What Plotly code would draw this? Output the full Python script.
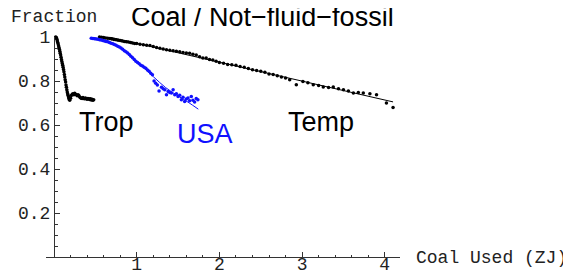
import plotly.graph_objects as go

# ---------------- data ----------------
trop_x = [0.02, 0.025, 0.03, 0.035, 0.04, 0.045, 0.05, 0.055, 0.06, 0.065, 0.07, 0.075, 0.08,
          0.085, 0.09, 0.095, 0.10, 0.105, 0.11, 0.115, 0.12, 0.125, 0.13, 0.135, 0.14, 0.145,
          0.15, 0.155, 0.16, 0.165, 0.17, 0.175, 0.18, 0.185, 0.19, 0.20, 0.21, 0.22, 0.23,
          0.24, 0.25, 0.26, 0.27, 0.28, 0.29, 0.30, 0.31, 0.32, 0.33, 0.34, 0.35, 0.36, 0.37,
          0.38, 0.39, 0.40, 0.41, 0.42, 0.43, 0.44, 0.45, 0.46, 0.47, 0.48]
trop_y = [1.000, 0.998, 0.996, 0.990, 0.982, 0.975, 0.968, 0.960, 0.952, 0.944, 0.935, 0.926, 0.918,
          0.908, 0.898, 0.889, 0.880, 0.872, 0.862, 0.852, 0.842, 0.830, 0.818, 0.806, 0.795, 0.782,
          0.772, 0.760, 0.750, 0.742, 0.735, 0.728, 0.722, 0.716, 0.712, 0.722, 0.734, 0.740, 0.742,
          0.738, 0.744, 0.740, 0.737, 0.733, 0.738, 0.734, 0.727, 0.724, 0.722, 0.720, 0.725, 0.721,
          0.719, 0.723, 0.719, 0.717, 0.721, 0.719, 0.716, 0.719, 0.714, 0.717, 0.712, 0.715]

usa_x = [0.45, 0.47, 0.49, 0.51, 0.53, 0.55, 0.57, 0.59, 0.61, 0.63, 0.65, 0.67, 0.69, 0.71,
         0.73, 0.75, 0.77, 0.79, 0.81, 0.83, 0.85, 0.87, 0.89, 0.91, 0.93, 0.95, 0.97, 0.99,
         1.01, 1.03, 1.05, 1.07, 1.09, 1.11, 1.13, 1.15, 1.17, 1.19, 1.21, 1.23, 1.25, 1.27,
         1.30, 1.32, 1.34, 1.36, 1.38, 1.40, 1.42, 1.44, 1.46, 1.48, 1.50, 1.52, 1.54, 1.56,
         1.58, 1.60, 1.62, 1.64, 1.66, 1.68, 1.70, 1.72, 1.74]
usa_y = [0.994, 0.993, 0.992, 0.991, 0.990, 0.988, 0.986, 0.984, 0.982, 0.980, 0.978, 0.975, 0.972, 0.969,
         0.966, 0.962, 0.958, 0.954, 0.950, 0.944, 0.938, 0.933, 0.927, 0.920, 0.913, 0.906, 0.898, 0.890,
         0.884, 0.878, 0.872, 0.868, 0.862, 0.858, 0.850, 0.844, 0.835, 0.828, 0.800, 0.790, 0.782, 0.755,
         0.772, 0.765, 0.760, 0.738, 0.752, 0.748, 0.745, 0.760, 0.738, 0.742, 0.730, 0.735, 0.715, 0.726,
         0.707, 0.718, 0.723, 0.710, 0.730, 0.712, 0.705, 0.720, 0.715]

usa_fit_x = [0.45, 0.60, 0.75, 0.90, 1.05, 1.20, 1.35, 1.50, 1.62, 1.745]
usa_fit_y = [0.998, 0.988, 0.965, 0.925, 0.872, 0.820, 0.770, 0.732, 0.704, 0.672]

temp_x = [0.55, 0.575, 0.60, 0.625, 0.65, 0.675, 0.70, 0.725, 0.75, 0.775, 0.80, 0.825, 0.85,
          0.875, 0.90, 0.925, 0.95, 0.975, 1.00, 1.04, 1.08, 1.12, 1.16, 1.20, 1.24, 1.28,
          1.32, 1.36, 1.40, 1.44, 1.48, 1.52, 1.56, 1.60, 1.64, 1.68, 1.72, 1.76, 1.80, 1.84,
          1.88, 1.92, 1.96, 2.00, 2.05, 2.10, 2.15, 2.20, 2.25, 2.30, 2.35, 2.40, 2.45, 2.50,
          2.55, 2.60, 2.65, 2.70, 2.75, 2.80, 2.85, 2.93, 3.01, 3.07, 3.135, 3.20, 3.256, 3.32,
          3.377, 3.44, 3.50, 3.56, 3.62, 3.68, 3.74, 3.82, 3.90, 4.02, 4.10]
temp_y = [1.000, 0.999, 0.998, 0.996, 0.994, 0.993, 0.991, 0.989, 0.987, 0.985, 0.984, 0.982, 0.980,
          0.978, 0.977, 0.975, 0.973, 0.971, 0.970, 0.967, 0.965, 0.963, 0.961, 0.957, 0.952, 0.949,
          0.945, 0.942, 0.940, 0.937, 0.935, 0.933, 0.930, 0.927, 0.926, 0.922, 0.918, 0.910, 0.905,
          0.904, 0.898, 0.896, 0.890, 0.884, 0.881, 0.875, 0.874, 0.872, 0.866, 0.862, 0.857, 0.851,
          0.848, 0.844, 0.840, 0.832, 0.829, 0.824, 0.818, 0.814, 0.806, 0.783, 0.798, 0.792, 0.783,
          0.780, 0.773, 0.770, 0.773, 0.765, 0.760, 0.755, 0.745, 0.748, 0.745, 0.742, 0.738, 0.700,
          0.680]

temp_fit_x = [0.55, 4.10]
temp_fit_y = [1.010, 0.705]

x_tick_vals = [1, 2, 3, 4]
x_tick_text = ["1", "2", "3", "4"]
y_tick_vals = [0.2, 0.4, 0.6, 0.8, 1.0]
y_tick_text = ["0.2", "0.4", "0.6", "0.8", "1"]

title_text = "Coal / Not\u2212fluid\u2212fossil"
series_labels = ["Trop", "USA", "Temp"]
x_label = "Coal Used (ZJ)"
y_label = "Fraction"

# ---------------- figure ----------------
x_min, x_max = -0.097, 4.184


def px(xv):
    """data x -> paper x"""
    return (xv - x_min) / (x_max - x_min)


fig = go.Figure()

fig.add_trace(go.Scatter(x=temp_fit_x, y=temp_fit_y, mode="lines",
                         line=dict(color="black", width=1), cliponaxis=False, hoverinfo="skip"))
fig.add_trace(go.Scatter(x=usa_fit_x, y=usa_fit_y, mode="lines",
                         line=dict(color="#1010ff", width=1, shape="spline"), cliponaxis=False,
                         hoverinfo="skip"))
fig.add_trace(go.Scatter(x=trop_x, y=trop_y, mode="markers",
                         marker=dict(color="black", size=3.5), cliponaxis=False))
fig.add_trace(go.Scatter(x=temp_x, y=temp_y, mode="markers",
                         marker=dict(color="black", size=3.5), cliponaxis=False))
fig.add_trace(go.Scatter(x=usa_x, y=usa_y, mode="markers",
                         marker=dict(color="#1010ff", size=3.5), cliponaxis=False))

mono = dict(family="Liberation Mono, Courier New, monospace", size=18, color="#222222")
sans = dict(family="Liberation Sans, Arial, sans-serif", size=27, color="black")

fig.update_layout(
    width=563, height=266,
    margin=dict(l=38, r=171, t=29, b=17, autoexpand=False),
    plot_bgcolor="white", paper_bgcolor="white",
    showlegend=False,
    xaxis=dict(range=[x_min, x_max], showgrid=False, zeroline=False, automargin=False,
               showline=True, linecolor="#333333", linewidth=1,
               ticks="inside", ticklen=5, tickcolor="#333333",
               tickvals=x_tick_vals, ticktext=x_tick_text, tickfont=mono,
               ticklabelstandoff=-10,
               minor=dict(ticks="inside", ticklen=2.5, dtick=0.2, tick0=0,
                          tickcolor="#333333", showgrid=False)),
    yaxis=dict(range=[0, 1.0], showgrid=False, zeroline=False, automargin=False,
               anchor="free", position=px(0), side="left",
               showline=True, linecolor="#333333", linewidth=1,
               ticks="inside", ticklen=5, tickcolor="#333333",
               tickvals=y_tick_vals, ticktext=y_tick_text, tickfont=mono,
               minor=dict(ticks="inside", ticklen=2.5, dtick=0.05, tick0=0,
                          tickcolor="#333333", showgrid=False)),
)

fig.add_annotation(x=px(2.527), y=1.09, xref="paper", yref="paper", text=title_text,
                   showarrow=False, font=sans, xanchor="center", yanchor="middle")
fig.add_annotation(x=px(0.629), y=0.613, xref="paper", yref="paper", text=series_labels[0],
                   showarrow=False, font=sans, xanchor="center", yanchor="middle")
fig.add_annotation(x=px(1.826), y=0.56, xref="paper", yref="paper", text=series_labels[1],
                   showarrow=False, font=dict(family=sans["family"], size=27, color="#1010ff"),
                   xanchor="center", yanchor="middle")
fig.add_annotation(x=px(3.23), y=0.613, xref="paper", yref="paper", text=series_labels[2],
                   showarrow=False, font=sans, xanchor="center", yanchor="middle")
fig.add_annotation(x=px(-0.544), y=1.092, xref="paper", yref="paper", text=y_label,
                   showarrow=False, font=mono, xanchor="left", yanchor="middle")
fig.add_annotation(x=px(4.35), y=-0.005, xref="paper", yref="paper", text=x_label,
                   showarrow=False, font=mono, xanchor="left", yanchor="middle")

fig.write_html("out.html")
